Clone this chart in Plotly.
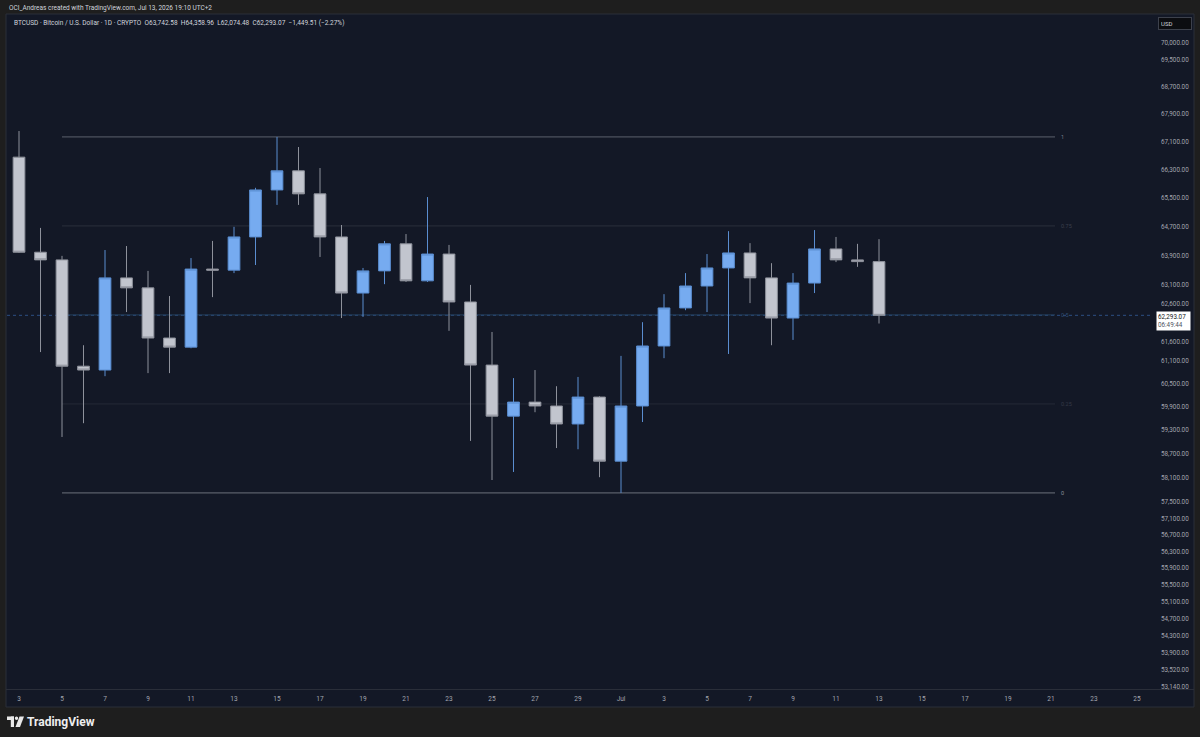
import math
import plotly.graph_objects as go

# ---------------- data ----------------
dates = [
    "2026-06-03", "2026-06-04", "2026-06-05", "2026-06-06", "2026-06-07", "2026-06-08",
    "2026-06-09", "2026-06-10", "2026-06-11", "2026-06-12", "2026-06-13", "2026-06-14",
    "2026-06-15", "2026-06-16", "2026-06-17", "2026-06-18", "2026-06-19", "2026-06-20",
    "2026-06-21", "2026-06-22", "2026-06-23", "2026-06-24", "2026-06-25", "2026-06-26",
    "2026-06-27", "2026-06-28", "2026-06-29", "2026-06-30", "2026-07-01", "2026-07-02",
    "2026-07-03", "2026-07-04", "2026-07-05", "2026-07-06", "2026-07-07", "2026-07-08",
    "2026-07-09", "2026-07-10", "2026-07-11", "2026-07-12", "2026-07-13",
]
opens = [66660, 64000, 63790, 60950, 60850, 63300, 63030, 61690, 61450, 63540, 63510,
         64420, 65730, 66270, 65620, 64420, 62890, 63490, 64230, 63220, 63950, 62650,
         60980, 59660, 60020, 59920, 59460, 60150, 58520, 59920, 61480, 62490, 63080,
         63570, 63980, 63300, 62220, 63160, 64090, 63790, 63742.58]
highs = [67410, 64670, 63900, 61500, 64060, 64170, 63490, 62810, 63840, 64310, 64700,
         65790, 67240, 66950, 66350, 64750, 63570, 64310, 64500, 65530, 64200, 63110,
         61850, 60640, 60850, 60430, 60670, 60170, 61220, 62110, 62860, 63430, 63950,
         64580, 64250, 63700, 63430, 64610, 64420, 64230, 64358.96]
lows = [63980, 61320, 59130, 59480, 60690, 62380, 60770, 60770, 61420, 62780, 63430,
        63650, 65310, 65310, 63870, 62220, 62250, 63130, 63190, 63190, 61880, 59030,
        58050, 58250, 59760, 58850, 58820, 58120, 57730, 59510, 61160, 62430, 62380,
        61270, 62620, 61500, 61640, 62890, 63730, 63600, 62074.48]
closes = [64000, 63790, 60950, 60850, 63300, 63030, 61690, 61450, 63540, 63510, 64420,
          65730, 66270, 65620, 64420, 62890, 63490, 64230, 63220, 63950, 62650, 60980,
          59660, 60020, 59920, 59460, 60150, 58520, 59920, 61480, 62490, 63080, 63570,
          63980, 63300, 62220, 63160, 64090, 63790, 63742.58, 62293.07]

last_price = 62293.07
countdown = "06:49:44"

y_ticks = [70000, 69500, 68700, 67900, 67100, 66300, 65500, 64700, 63900, 63100, 62600,
           61600, 61100, 60500, 59900, 59300, 58700, 58100, 57500, 57100, 56700, 56300,
           55900, 55500, 55100, 54700, 54300, 53900, 53520, 53140]

x_tick_dates = ["2026-06-03", "2026-06-05", "2026-06-07", "2026-06-09", "2026-06-11",
                "2026-06-13", "2026-06-15", "2026-06-17", "2026-06-19", "2026-06-21",
                "2026-06-23", "2026-06-25", "2026-06-27", "2026-06-29", "2026-07-01",
                "2026-07-03", "2026-07-05", "2026-07-07", "2026-07-09", "2026-07-11",
                "2026-07-13", "2026-07-15", "2026-07-17", "2026-07-19", "2026-07-21",
                "2026-07-23", "2026-07-25"]
x_tick_labels = ["3", "5", "7", "9", "11", "13", "15", "17", "19", "21", "23", "25", "27",
                 "29", "Jul", "3", "5", "7", "9", "11", "13", "15", "17", "19", "21", "23", "25"]

fib_levels = [1, 0.75, 0.5, 0.25, 0]
fib_labels = ["1", "0.75", "0.5", "0.25", "0"]
fib_high = highs[12]   # Jun 15 high
fib_low = lows[28]     # Jul 1 low
fib_start = "2026-06-05"
fib_end = "2026-07-21 04:30"
fib_label_x = "2026-07-21 09:00"

header = "OCI_Andreas created with TradingView.com, Jul 13, 2026 19:10 UTC+2"
legend_text = ("BTCUSD · Bitcoin / U.S. Dollar · 1D · CRYPTO  O63,742.58  H64,358.96  "
               "L62,074.48  C62,293.07  −1,449.51 (−2.27%)")

# ---------------- layout geometry / styles ----------------
W, H = 1200, 737
L, R, T, B = 7, 1152, 15, 689


def px(x):
    return (x - L) / (R - L)


def py(y):
    return (B - y) / (B - T)


BG_OUT = "#1e1e1e"
BG = "#131826"
BORDER = "#2a2e39"
TXT = "#d1d4dc"
AXTXT = "#a3a6af"
FONT = "Roboto"

fib_line_colors = ["#5c616d", "#2b303c", "#25405f", "#252a36", "#6c717c"]
fib_text_colors = ["#7a7f8a", "#3a3f4c", "#2f4d72", "#343947", "#8a8f9a"]

fig = go.Figure()

fig.add_trace(go.Candlestick(
    x=dates, open=opens, high=highs, low=lows, close=closes,
    increasing=dict(fillcolor="#76abf0", line=dict(color="#5a8dd0", width=1)),
    decreasing=dict(fillcolor="#c2c5ce", line=dict(color="#8e919b", width=1)),
    whiskerwidth=0, showlegend=False, hoverinfo="skip",
))

shapes = []
# chart panel background
shapes.append(dict(type="rect", xref="paper", yref="paper",
                   x0=px(6), x1=px(1194), y0=py(707), y1=py(14),
                   fillcolor=BG, line=dict(color=BORDER, width=1), layer="below"))
# time axis separator
shapes.append(dict(type="line", xref="paper", yref="paper",
                   x0=px(6), x1=px(1194), y0=py(689.5), y1=py(689.5),
                   line=dict(color=BORDER, width=1), layer="below"))

# fib levels (log-scale based)
fib_prices = []
for f in fib_levels:
    p = math.exp(math.log(fib_low) + f * (math.log(fib_high) - math.log(fib_low)))
    fib_prices.append(p)
for p, c in zip(fib_prices, fib_line_colors):
    shapes.append(dict(type="line", xref="x", yref="y", x0=fib_start, x1=fib_end,
                       y0=p, y1=p, line=dict(color=c, width=1), layer="below"))

# current price dotted line
shapes.append(dict(type="line", xref="paper", yref="y", x0=0, x1=1,
                   y0=last_price, y1=last_price,
                   line=dict(color="#2d4f82", width=1, dash="dot"), layer="below"))

# TradingView logo glyph
LOGO = "#e8e8e8"
shapes.append(dict(type="rect", xref="paper", yref="paper", x0=px(7), x1=px(14),
                   y0=py(720), y1=py(716.5), fillcolor=LOGO, line=dict(width=0)))
shapes.append(dict(type="rect", xref="paper", yref="paper", x0=px(10.8), x1=px(14),
                   y0=py(727), y1=py(716.5), fillcolor=LOGO, line=dict(width=0)))
shapes.append(dict(type="circle", xref="paper", yref="paper", x0=px(14.8), x1=px(18.2),
                   y0=py(720), y1=py(716.6), fillcolor=LOGO, line=dict(width=0)))
x_a, x_b = px(19.5), px(24)
x_c, x_d = px(20), px(15.5)
shapes.append(dict(type="path", xref="paper", yref="paper",
                   path=f"M {x_a} {py(716.5)} L {x_b} {py(716.5)} L {x_c} {py(727)} L {x_d} {py(727)} Z",
                   fillcolor=LOGO, line=dict(width=0)))

annotations = []
annotations.append(dict(text=header, xref="paper", yref="paper", x=px(7), y=py(8),
                        xanchor="left", yanchor="middle", showarrow=False,
                        font=dict(family=FONT, size=6.5, color=TXT)))
annotations.append(dict(text=legend_text, xref="paper", yref="paper", x=px(12), y=py(22.5),
                        xanchor="left", yanchor="middle", showarrow=False,
                        font=dict(family=FONT, size=6.5, color=TXT)))
annotations.append(dict(text="USD", xref="paper", yref="paper", x=px(1175), y=py(23.5),
                        xanchor="center", yanchor="middle", showarrow=False, width=28,
                        align="left", bgcolor="#0c0d11", bordercolor="#3d414c",
                        borderwidth=1, borderpad=2,
                        font=dict(family=FONT, size=6, color=TXT)))
annotations.append(dict(text=f"{last_price:,.2f}<br><span style='color:#50545f'>{countdown}</span>",
                        xref="paper", yref="y", x=px(1156), y=math.log10(last_price),
                        xanchor="left", yanchor="top", yshift=4.5, showarrow=False,
                        width=31, align="left", bgcolor="#ffffff", borderpad=1,
                        font=dict(family=FONT, size=6.3, color="#131722")))
for lbl, p, c in zip(fib_labels, fib_prices, fib_text_colors):
    annotations.append(dict(text=lbl, xref="x", yref="y", x=fib_label_x, y=math.log10(p),
                            xanchor="left", yanchor="middle", showarrow=False,
                            font=dict(family=FONT, size=5.5, color=c)))
annotations.append(dict(text="<b>TradingView</b>", xref="paper", yref="paper", x=px(25),
                        y=py(722), xanchor="left", yanchor="middle", showarrow=False,
                        font=dict(family=FONT, size=12, color="#eeeeee")))

fig.update_layout(
    width=W, height=H,
    margin=dict(l=L, r=W - R, t=T, b=H - B, pad=0),
    paper_bgcolor=BG_OUT, plot_bgcolor=BG,
    boxgap=0.22,
    showlegend=False,
    shapes=shapes, annotations=annotations,
    font=dict(family=FONT),
    xaxis=dict(type="date", range=["2026-06-02 10:36", "2026-07-25 16:45"],
               tickvals=x_tick_dates, ticktext=x_tick_labels,
               showgrid=False, zeroline=False, showline=False, ticks="",
               tickfont=dict(family=FONT, size=6.5, color=AXTXT),
               ticklabelstandoff=4, rangeslider=dict(visible=False), fixedrange=True),
    yaxis=dict(type="log", side="right",
               range=[math.log10(53079), math.log10(70845)],
               tickvals=y_ticks, ticktext=[f"{v:,.2f}" for v in y_ticks],
               showgrid=False, zeroline=False, showline=False, ticks="",
               tickfont=dict(family=FONT, size=6.3, color=AXTXT),
               ticklabelstandoff=8, fixedrange=True),
)

fig.write_html("out.html")
